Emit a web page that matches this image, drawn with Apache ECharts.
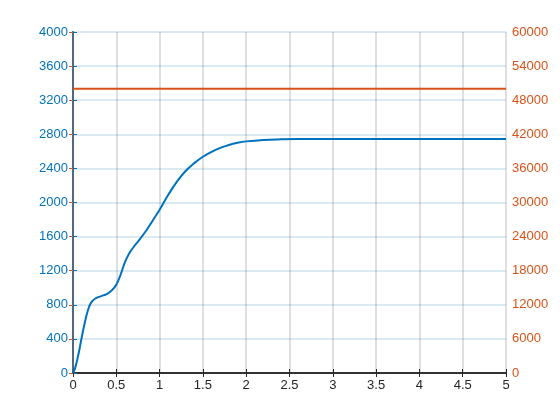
<!DOCTYPE html>
<html>
<head>
<meta charset="utf-8">
<script src="https://cdn.jsdelivr.net/npm/echarts@6/dist/echarts.min.js"></script>
<style>
  html, body { margin: 0; padding: 0; background: #fff; }
  #chart { width: 560px; height: 420px; }
</style>
</head>
<body>
<div id="chart"></div>
<script>
// 左轴曲线 (时间, 值)
const tValues = [0, 0.025, 0.05, 0.075, 0.1, 0.125, 0.15, 0.175, 0.2, 0.225, 0.25, 0.3, 0.35, 0.4, 0.45, 0.5,
  0.55, 0.6, 0.65, 0.7, 0.75, 0.8, 0.85, 0.9, 0.95, 1.0, 1.1, 1.2, 1.3, 1.4, 1.5, 1.6, 1.7, 1.8, 1.9, 2.0,
  2.2, 2.4, 2.6, 3.0, 3.5, 4.0, 4.5, 5.0];
const leftValues = [0, 60, 160, 280, 415, 540, 650, 745, 810, 845, 868, 893, 910, 932, 972, 1035,
  1155, 1300, 1405, 1478, 1542, 1607, 1677, 1755, 1835, 1915, 2090, 2245, 2370, 2462, 2537, 2595, 2640, 2675, 2700, 2717,
  2734, 2741, 2744, 2745, 2745, 2745, 2745, 2745];
// 右轴常数线
const rightT = [0, 5];
const rightValues = [50000, 50000];

const blue = '#0072BD';
const orange = '#D95319';
const dark = '#262626';
const font = 'Liberation Sans, Arial, sans-serif';

const myChart = echarts.init(document.getElementById('chart'));

const option = {
  animation: false,
  grid: { left: 73, right: 54, top: 32, bottom: 47 },
  xAxis: [
    {
      type: 'value',
      min: 0,
      max: 5,
      interval: 0.5,
      axisLine: { show: true, lineStyle: { color: dark, width: 1.5 } },
      axisTick: { show: true, inside: true, length: 4, lineStyle: { color: dark } },
      axisLabel: { color: dark, fontSize: 13, fontFamily: font, margin: 6, formatter: (v) => String(v) },
      splitLine: { show: true, lineStyle: { color: 'rgba(38,38,38,0.15)', width: 2 } },
    },
    {
      // 上边框
      type: 'value',
      position: 'top',
      min: 0,
      max: 5,
      interval: 0.5,
      axisLine: { show: true, lineStyle: { color: dark, width: 1.5 } },
      axisTick: { show: true, inside: true, length: 4, lineStyle: { color: dark } },
      axisLabel: { show: false },
      splitLine: { show: false },
    },
  ],
  yAxis: [
    {
      type: 'value',
      min: 0,
      max: 4000,
      interval: 400,
      axisLine: { show: true, lineStyle: { color: blue, width: 2 } },
      axisTick: { show: true, inside: true, length: 4, lineStyle: { color: blue } },
      axisLabel: { color: blue, fontSize: 13, fontFamily: font, margin: 5, formatter: (v) => String(v) },
      splitLine: { show: true, lineStyle: { color: 'rgba(0,114,189,0.15)', width: 2 } },
    },
    {
      type: 'value',
      position: 'right',
      min: 0,
      max: 60000,
      interval: 6000,
      axisLine: { show: true, lineStyle: { color: '#6e6470', width: 1.5 } },
      axisTick: { show: true, inside: true, length: 4, lineStyle: { color: orange } },
      axisLabel: { color: orange, fontSize: 13, fontFamily: font, margin: 6, formatter: (v) => String(v) },
      splitLine: { show: false },
    },
  ],
  series: [
    {
      type: 'line',
      xAxisIndex: 0,
      yAxisIndex: 0,
      smooth: 0.4,
      showSymbol: false,
      lineStyle: { color: blue, width: 2 },
      data: tValues.map((t, i) => [t, leftValues[i]]),
    },
    {
      type: 'line',
      xAxisIndex: 0,
      yAxisIndex: 1,
      showSymbol: false,
      lineStyle: { color: orange, width: 2 },
      data: rightT.map((t, i) => [t, rightValues[i]]),
    },
  ],
};

myChart.setOption(option);
window.addEventListener('resize', () => {
  myChart.resize();
});
</script>
</body>
</html>
